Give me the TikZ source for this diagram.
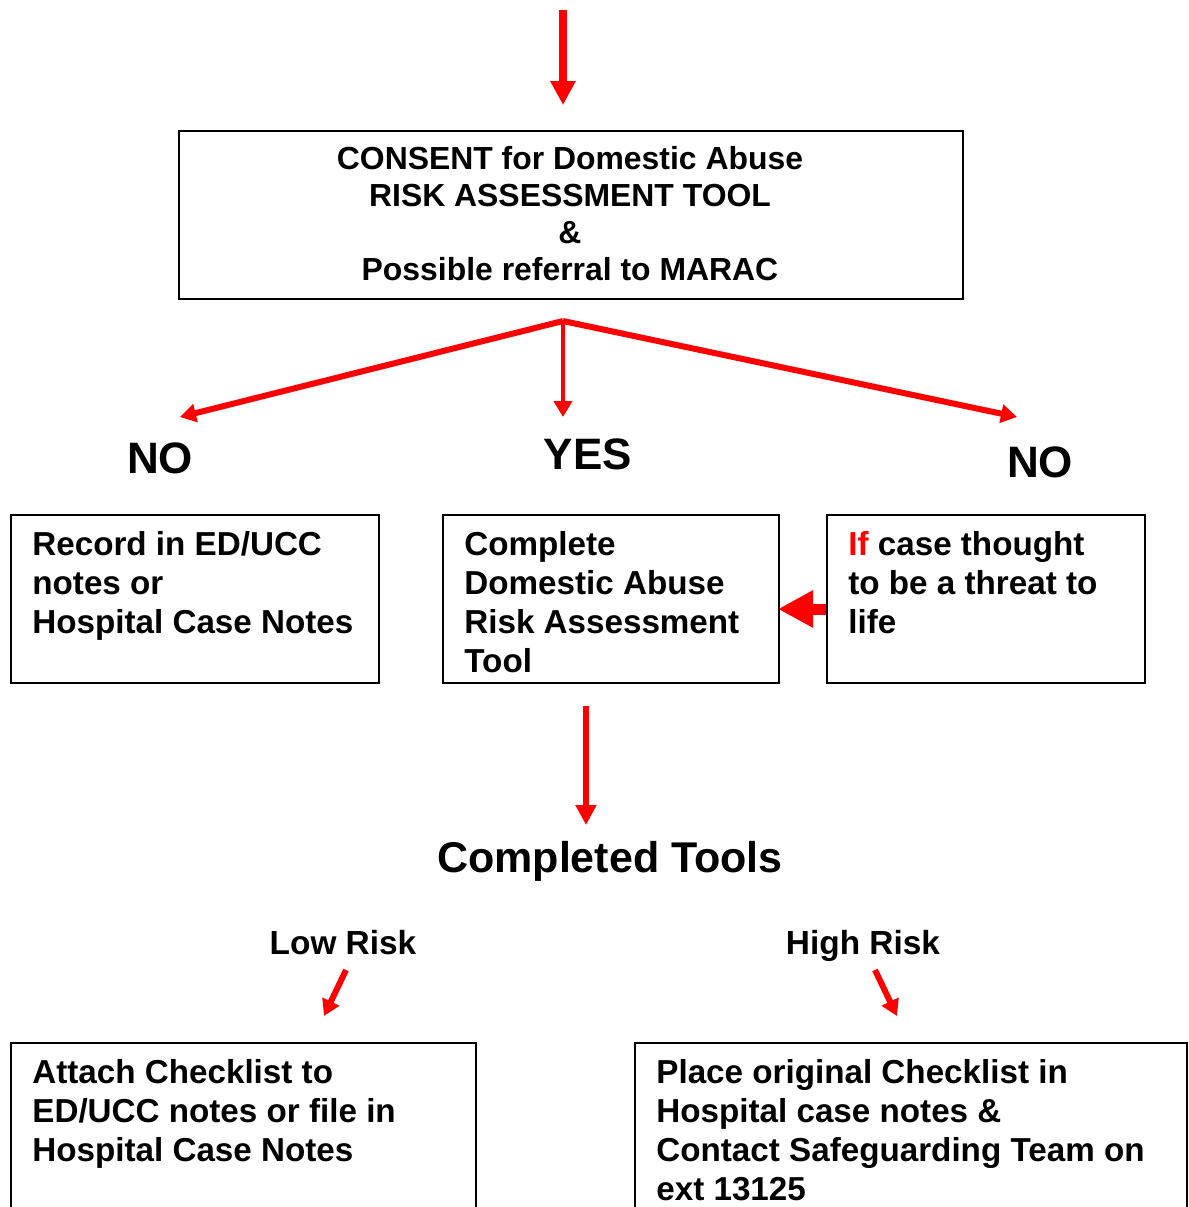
\documentclass[tikz,border=0pt]{standalone}
\usepackage{fontspec}
\setmainfont{Liberation Sans}
\usetikzlibrary{arrows.meta,positioning}
\definecolor{FlowRed}{RGB}{255,0,0}

\begin{document}
\begin{tikzpicture}[x=0.5pt, y=-0.5pt,
    box/.style={draw, line width=1pt, anchor=north west, inner sep=0pt},
    boxtext/.style={anchor=north west, align=left, inner sep=0pt,
        font=\bfseries\fontsize{16.6}{19.5}\selectfont},
    answer/.style={font=\bfseries\fontsize{22}{26}\selectfont},
    risk/.style={anchor=base, font=\bfseries\fontsize{16.7}{19}\selectfont},
    flow/.style={FlowRed, -{Triangle[length=12pt, width=12pt]}, line width=4pt},
    fan/.style={FlowRed, -{Triangle[length=8pt, width=9pt]}, line width=3pt}]
    \clip (0,0) rectangle (1189,1207);
    % entry arrow
    \coordinate (start) at (563,10);
    \coordinate (entry) at (563,105);
    \draw[flow] (start) -- (entry);
    % consent box
    \node[box, minimum width=392pt, minimum height=84pt] (consent) at (178,130) {};
    \node[align=center, font=\bfseries\fontsize{15.95}{18.5}\selectfont] (consenttxt) at (570,214)
        {CONSENT for Domestic Abuse\\RISK ASSESSMENT TOOL\\\&\\Possible referral to MARAC};
    % three ways
    \coordinate (split) at (563,321);
    \coordinate (noL) at (180,417);
    \coordinate (yes) at (563,417);
    \coordinate (noR) at (1017,417);
    \draw[fan] (split) -- (noL);
    \draw[fan, line width=2pt] (split) -- (yes);
    \draw[fan] (split) -- (noR);
    \node[answer] (nolbl) at (160,458) {NO};
    \node[answer] (yeslbl) at (588,454) {YES};
    \node[answer] (norlbl) at (1040,462) {NO};
    % outcome boxes
    \node[box, minimum width=184pt, minimum height=84pt] (rec) at (10,514) {};
    \node[boxtext] (rectxt) at ([shift={(22,17)}]rec.north west)
        {Record in ED/UCC\\notes or\\Hospital Case Notes};
    \node[box, minimum width=168pt, minimum height=84pt] (tool) at (442,514) {};
    \node[boxtext] (tooltxt) at ([shift={(22,17)}]tool.north west)
        {Complete\\Domestic Abuse\\Risk Assessment\\Tool};
    \node[box, minimum width=159pt, minimum height=84pt] (threat) at (826,514) {};
    \node[boxtext] (threattxt) at ([shift={(22,17)}]threat.north west)
        {\textcolor{FlowRed}{If} case thought\\to be a threat to\\life};
    \coordinate (threatin) at (826,609);
    \coordinate (toolin) at (778,609);
    \draw[FlowRed, -{Triangle[length=17.5pt, width=17.5pt]}, line width=5.5pt] (threatin) -- (toolin);
    % completed
    \coordinate (toolout) at (586,706);
    \coordinate (done) at (586,825);
    \draw[flow, line width=3pt, -{Triangle[length=10pt, width=10pt]}] (toolout) -- (done);
    \node[font=\bfseries\fontsize{21.5}{25}\selectfont] (completed) at (610,861) {Completed Tools};
    \node[risk] (low) at (343,954) {Low Risk};
    \node[risk] (high) at (863,954) {High Risk};
    \coordinate (lowtop) at (346,970);
    \coordinate (lowend) at (324,1016);
    \coordinate (hightop) at (875,970);
    \coordinate (highend) at (897,1016);
    \draw[fan] (lowtop) -- (lowend);
    \draw[fan] (hightop) -- (highend);
    % final boxes
    \node[box, minimum width=232.5pt, minimum height=100pt] (attach) at (10,1042) {};
    \node[boxtext] (attachtxt) at ([shift={(22,17)}]attach.north west)
        {Attach Checklist to\\ED/UCC notes or file in\\Hospital Case Notes};
    \node[box, minimum width=276pt, minimum height=100pt] (place) at (634,1042) {};
    \node[boxtext] (placetxt) at ([shift={(22,17)}]place.north west)
        {Place original Checklist in\\Hospital case notes \&\\Contact Safeguarding Team on\\ext 13125};
\end{tikzpicture}
\end{document}
